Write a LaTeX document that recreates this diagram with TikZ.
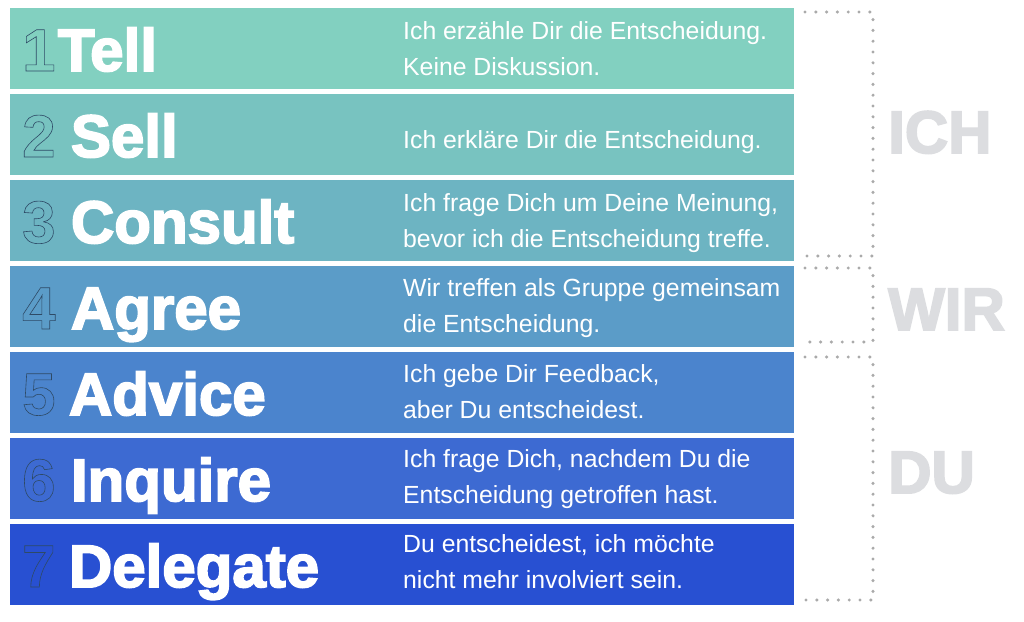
\documentclass[tikz,border=0pt]{standalone}
\usepackage{fontspec}
\setmainfont{Liberation Sans}
\newfontfamily\heavyfont{Liberation Sans}[UprightFont={* Bold}, FakeBold=3]
\usetikzlibrary{positioning}

\definecolor{barA}{HTML}{82D0C0}
\definecolor{barB}{HTML}{78C3C0}
\definecolor{barC}{HTML}{6DB4C2}
\definecolor{barD}{HTML}{5B9CC8}
\definecolor{barE}{HTML}{4B84CD}
\definecolor{barF}{HTML}{3D6AD2}
\definecolor{barG}{HTML}{2850D2}
\definecolor{numline}{HTML}{2E4A66}
\definecolor{sidegray}{HTML}{DCDDE0}
\definecolor{dotgray}{HTML}{AAAAAA}

% outlined digits: stroke only
\newcommand{\hollow}[1]{\special{pdf:code q 1 Tr 0.6 w}#1\special{pdf:code Q}}

\tikzset{
  bar/.style={rectangle, inner sep=0pt, minimum width=784.5pt, minimum height=81pt},
  num/.style={inner sep=0pt, anchor=base west, text=numline, font=\bfseries\fontsize{60}{60}\selectfont},
  title/.style={inner sep=0pt, text=white, font=\heavyfont\fontsize{60}{60}\selectfont},
  desc/.style={inner sep=0pt, anchor=base west, text=white, align=left, font=\fontsize{24.8}{36}\selectfont},
  side/.style={inner sep=0pt, anchor=base west, text=sidegray, font=\heavyfont\fontsize{60}{60}\selectfont},
  dots/.style={draw=dotgray, line width=3.4pt, line cap=round, dash pattern=on 0pt off 10.8pt}
}

\begin{document}
\begin{tikzpicture}[x=1pt,y=-1pt]
\useasboundingbox (0,0) rectangle (1024,621);
\fill[white] (0,0) rectangle (1024,621);

% bars
\node[bar, fill=barA] (bar1) at (401.75,48.5) {};
\node[bar, fill=barB] (bar2) at (401.75,134.5) {};
\node[bar, fill=barC] (bar3) at (401.75,220.5) {};
\node[bar, fill=barD] (bar4) at (401.75,306.5) {};
\node[bar, fill=barE] (bar5) at (401.75,392.5) {};
\node[bar, fill=barF] (bar6) at (401.75,478.5) {};
\node[bar, fill=barG] (bar7) at (401.75,564.5) {};

% numbers and titles
\node[num] (n1) at (22,71) {\hollow{1}};
\node[title, base right=2pt of n1] (t1) {Tell};
\node[num] (n2) at (22,157) {\hollow{2}};
\node[title, base right=15pt of n2] (t2) {Sell};
\node[num] (n3) at (22,243) {\hollow{3}};
\node[title, base right=15pt of n3] (t3) {Consult};
\node[num] (n4) at (22,329) {\hollow{4}};
\node[title, base right=15pt of n4] (t4) {Agree};
\node[num] (n5) at (22,415) {\hollow{5}};
\node[title, base right=13pt of n5] (t5) {Advice};
\node[num] (n6) at (22,501) {\hollow{6}};
\node[title, base right=15pt of n6] (t6) {Inquire};
\node[num] (n7) at (22,587) {\hollow{7}};
\node[title, base right=13pt of n7] (t7) {Delegate};

% descriptions (anchored at the last line)
\node[desc] (d1) at (403,75) {Ich erzähle Dir die Entscheidung.\\Keine Diskussion.};
\node[desc] (d2) at (403,148) {Ich erkläre Dir die Entscheidung.};
\node[desc] (d3) at (403,247) {Ich frage Dich um Deine Meinung,\\bevor ich die Entscheidung treffe.};
\node[desc] (d4) at (403,332) {Wir treffen als Gruppe gemeinsam\\die Entscheidung.};
\node[desc] (d5) at (403,418) {Ich gebe Dir Feedback,\\aber Du entscheidest.};
\node[desc] (d6) at (403,503) {Ich frage Dich, nachdem Du die\\Entscheidung getroffen hast.};
\node[desc] (d7) at (403,588) {Du entscheidest, ich möchte\\nicht mehr involviert sein.};

% dotted brackets
\draw[dots] (805,12) -- (873,12) -- (873,256) -- (805,256);
\draw[dots] (805,268) -- (873,268) -- (873,342) -- (805,342);
\draw[dots] (805,357) -- (873,357) -- (873,600) -- (805,600);

% side labels
\node[side] (ich) at (888,153) {ICH};
\node[side] (wir) at (888,330) {WIR};
\node[side] (du) at (888,493) {DU};
\end{tikzpicture}
\end{document}
